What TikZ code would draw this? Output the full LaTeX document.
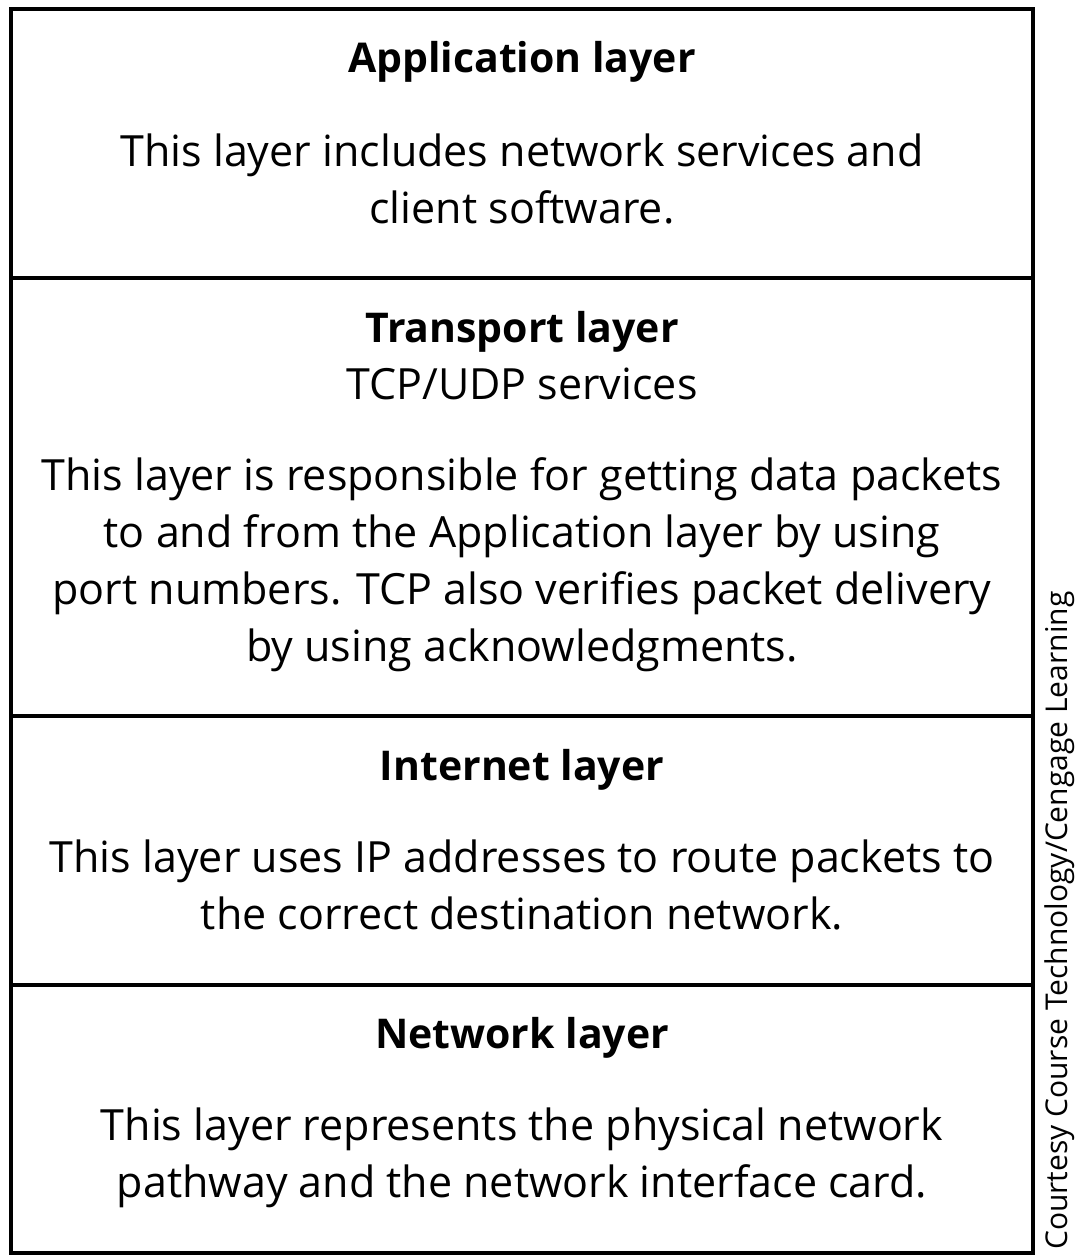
\documentclass[tikz,border=0pt]{standalone}
\usepackage{fontspec}
\setmainfont{Open Sans}
\tikzset{
  layerhead/.style={font=\bfseries\fontsize{41}{48}\selectfont, inner sep=0pt},
  layertext/.style={align=center, font=\fontsize{43}{57}\selectfont, inner sep=0pt},
  credit/.style={rotate=90, font=\fontsize{30}{34}\selectfont, inner sep=0pt}
}
\begin{document}
\begin{tikzpicture}[x=1pt,y=-1pt]
\useasboundingbox (0,0) rectangle (1085,1256);
% layer boxes
\draw[line width=3.5pt] (11,9) rectangle (1033,1253);
\draw[line width=3.5pt] (11,278) -- (1033,278);
\draw[line width=3.5pt] (11,716) -- (1033,716);
\draw[line width=3.5pt] (11,985) -- (1033,985);

\node[layerhead, anchor=base] (apphead) at (522,72) {Application layer};
\node[layertext, anchor=base] (apptext) at (522,223) {This layer includes network services and\\client software.};

\node[layerhead, anchor=base] (tranhead) at (522,342) {Transport layer};
\node[layertext, anchor=base] (transub) at (522,399) {TCP/UDP services};
\node[layertext, anchor=base] (trantext) at (522,661) {This layer is responsible for getting data packets\\to and from the Application layer by using\\port numbers. TCP also verifies packet delivery\\by using acknowledgments.};

\node[layerhead, anchor=base] (inethead) at (522,780) {Internet layer};
\node[layertext, anchor=base] (inettext) at (522,929) {This layer uses IP addresses to route packets to\\the correct destination network.};

\node[layerhead, anchor=base] (nethead) at (522,1048) {Network layer};
\node[layertext, anchor=base] (nettext) at (522,1197) {This layer represents the physical network\\pathway and the network interface card.};

\node[credit, anchor=south west] (credit) at (1075,1250) {Courtesy Course Technology/Cengage Learning};
\end{tikzpicture}
\end{document}
